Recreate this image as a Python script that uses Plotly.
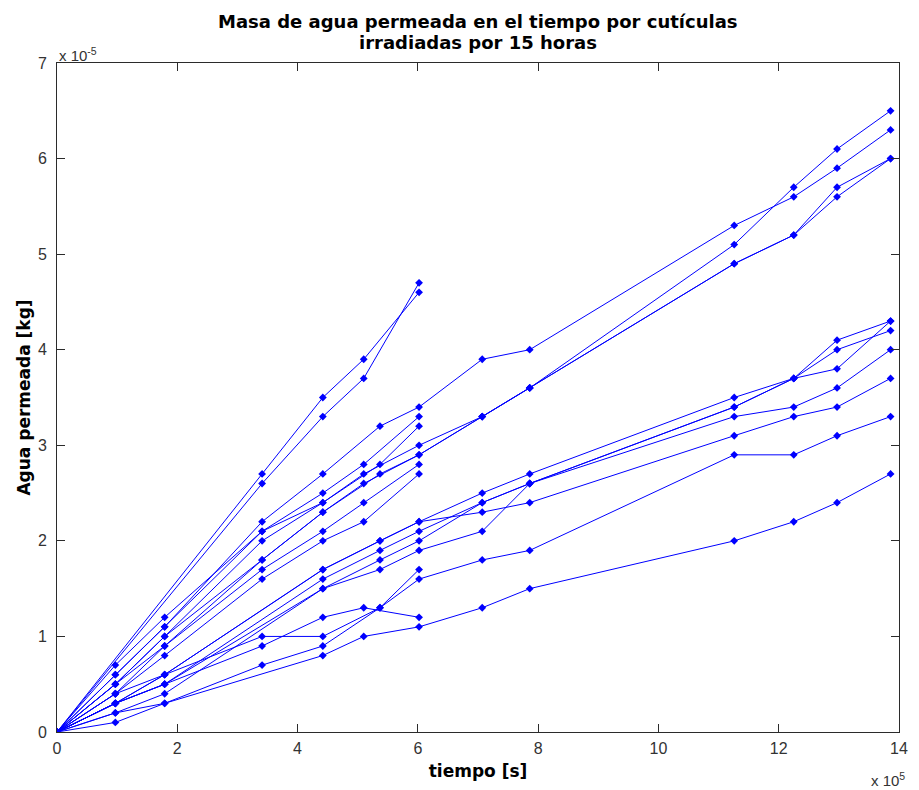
import plotly.graph_objects as go

# Time axis in units of 1e5 s, permeated water mass in units of 1e-5 kg

# Short runs (finish at ~6.0e5 s)
t_s1 = [0, 3.41, 4.42, 5.10, 6.02]
m_s1 = [0, 2.7, 3.5, 3.9, 4.6]
t_s2 = [0, 3.41, 4.42, 5.10, 6.02]
m_s2 = [0, 2.6, 3.3, 3.7, 4.7]
t_s3 = [0, 0.97, 1.79, 3.41, 4.42, 5.10, 6.02]
m_s3 = [0, 0.7, 1.2, 2.1, 2.5, 2.8, 3.3]
t_s4 = [0, 0.97, 1.79, 3.41, 4.42, 5.37, 6.02]
m_s4 = [0, 0.5, 1.0, 2.0, 2.4, 2.8, 3.2]
t_s5 = [0, 0.97, 1.79, 3.41, 4.42, 5.10, 6.02]
m_s5 = [0, 0.4, 0.9, 1.7, 2.1, 2.4, 2.8]
t_s6 = [0, 0.97, 1.79, 3.41, 4.42, 5.10, 6.02]
m_s6 = [0, 0.4, 0.8, 1.6, 2.0, 2.2, 2.7]
t_s7 = [0, 0.97, 1.79, 3.41, 4.42, 5.37, 6.02]
m_s7 = [0, 0.4, 0.6, 1.0, 1.0, 1.3, 1.7]
t_s8 = [0, 0.97, 1.79, 3.41, 4.42, 5.10, 6.02]
m_s8 = [0, 0.3, 0.5, 0.9, 1.2, 1.3, 1.2]

# Long runs (finish at ~13.9e5 s)
t_l1 = [0, 0.97, 1.79, 3.41, 4.42, 5.37, 6.02, 7.07, 7.86, 11.26, 12.25, 12.97, 13.86]
m_l1 = [0, 0.6, 1.1, 2.2, 2.7, 3.2, 3.4, 3.9, 4.0, 5.3, 5.6, 5.9, 6.3]
t_l2 = [0, 0.97, 1.79, 3.41, 4.42, 5.10, 6.02, 7.07, 7.86, 11.26, 12.25, 12.97, 13.86]
m_l2 = [0, 0.6, 1.1, 2.1, 2.4, 2.7, 3.0, 3.3, 3.6, 5.1, 5.7, 6.1, 6.5]
t_l3 = [0, 0.97, 1.79, 3.41, 4.42, 5.37, 6.02, 7.07, 7.86, 11.26, 12.25, 12.97, 13.86]
m_l3 = [0, 0.5, 0.9, 1.8, 2.3, 2.7, 2.9, 3.3, 3.6, 4.9, 5.2, 5.7, 6.0]
t_l4 = [0, 0.97, 1.79, 3.41, 4.42, 5.10, 6.02, 7.07, 7.86, 11.26, 12.25, 12.97, 13.86]
m_l4 = [0, 0.5, 1.0, 1.8, 2.3, 2.6, 2.9, 3.3, 3.6, 4.9, 5.2, 5.6, 6.0]
t_l5 = [0, 0.97, 1.79, 4.42, 5.37, 6.02, 7.07, 7.86, 11.26, 12.25, 12.97, 13.86]
m_l5 = [0, 0.3, 0.6, 1.7, 2.0, 2.2, 2.5, 2.7, 3.5, 3.7, 4.1, 4.3]
t_l6 = [0, 0.97, 1.79, 4.42, 5.37, 6.02, 7.07, 7.86, 11.26, 12.25, 12.97, 13.86]
m_l6 = [0, 0.3, 0.5, 1.6, 1.9, 2.1, 2.4, 2.6, 3.4, 3.7, 4.0, 4.2]
t_l7 = [0, 0.97, 1.79, 4.42, 5.37, 6.02, 7.07, 7.86, 11.26, 12.25, 12.97, 13.86]
m_l7 = [0, 0.2, 0.4, 1.5, 1.7, 1.9, 2.1, 2.6, 3.4, 3.7, 3.8, 4.3]
t_l8 = [0, 0.97, 1.79, 4.42, 5.37, 6.02, 7.07, 7.86, 11.26, 12.25, 12.97, 13.86]
m_l8 = [0, 0.3, 0.5, 1.5, 1.8, 2.0, 2.4, 2.6, 3.3, 3.4, 3.6, 4.0]
t_l9 = [0, 0.97, 1.79, 4.42, 5.37, 6.02, 7.07, 7.86, 11.26, 12.25, 12.97, 13.86]
m_l9 = [0, 0.3, 0.6, 1.7, 2.0, 2.2, 2.3, 2.4, 3.1, 3.3, 3.4, 3.7]
t_l10 = [0, 0.97, 1.79, 3.41, 4.42, 5.37, 6.02, 7.07, 7.86, 11.26, 12.25, 12.97, 13.86]
m_l10 = [0, 0.2, 0.3, 0.7, 0.9, 1.3, 1.6, 1.8, 1.9, 2.9, 2.9, 3.1, 3.3]
t_l11 = [0, 0.97, 1.79, 4.42, 5.10, 6.02, 7.07, 7.86, 11.26, 12.25, 12.97, 13.86]
m_l11 = [0, 0.1, 0.3, 0.8, 1.0, 1.1, 1.3, 1.5, 2.0, 2.2, 2.4, 2.7]

series = [
    (t_s1, m_s1), (t_s2, m_s2), (t_s3, m_s3), (t_s4, m_s4),
    (t_s5, m_s5), (t_s6, m_s6), (t_s7, m_s7), (t_s8, m_s8),
    (t_l1, m_l1), (t_l2, m_l2), (t_l3, m_l3), (t_l4, m_l4),
    (t_l5, m_l5), (t_l6, m_l6), (t_l7, m_l7), (t_l8, m_l8),
    (t_l9, m_l9), (t_l10, m_l10), (t_l11, m_l11),
]

x_ticks = [0, 2, 4, 6, 8, 10, 12, 14]
y_ticks = [0, 1, 2, 3, 4, 5, 6, 7]

TICK_FONT = "Liberation Sans, Arial, sans-serif"
BOLD_FONT = "DejaVu Sans, Verdana, sans-serif"
BLUE = "rgb(0,0,255)"
AXIS_GRAY = "#2b2b2b"

fig = go.Figure()
for t, m in series:
    fig.add_trace(go.Scatter(
        x=t, y=m, mode="lines+markers",
        line=dict(color=BLUE, width=1),
        marker=dict(color=BLUE, size=6, symbol="diamond"),
        showlegend=False, hoverinfo="skip",
    ))

axis_common = dict(
    showline=True, linecolor=AXIS_GRAY, linewidth=1, mirror="ticks",
    ticks="inside", ticklen=8, tickcolor=AXIS_GRAY, tickwidth=1,
    showgrid=False, zeroline=False,
    tickfont=dict(family=TICK_FONT, size=16, color="#333333"),
)

fig.update_layout(
    width=919, height=790,
    paper_bgcolor="white", plot_bgcolor="white",
    margin=dict(l=57, r=11, t=63, b=58),
    xaxis=dict(range=[0, 14], tickvals=x_ticks, ticktext=[str(v) for v in x_ticks],
               ticklabelstandoff=2,
               title=dict(text="<b>tiempo [s]</b>", standoff=8,
                          font=dict(family=BOLD_FONT, size=17, color="black")),
               **axis_common),
    yaxis=dict(range=[0, 7], tickvals=y_ticks, ticktext=[str(v) for v in y_ticks],
               ticklabelstandoff=6,
               title=dict(text="<b>Agua permeada [kg]</b>", standoff=2,
                          font=dict(family=BOLD_FONT, size=17, color="black")),
               **axis_common),
)

# Two-line title
title_lines = ["Masa de agua permeada en el tiempo por cutículas",
               "irradiadas por 15 horas"]
for i, line in enumerate(title_lines):
    fig.add_annotation(text="<b>" + line + "</b>", xref="paper", yref="paper",
                       x=0.5, y=1, xanchor="center", yanchor="middle",
                       yshift=42 - 21 * i, showarrow=False,
                       font=dict(family=BOLD_FONT, size=18, color="black"))

# Axis scale factors
fig.add_annotation(text="x 10<sup>-5</sup>", xref="paper", yref="paper",
                   x=0, y=1, xanchor="left", yanchor="middle", yshift=9,
                   showarrow=False, font=dict(family=TICK_FONT, size=15, color="#333333"))
fig.add_annotation(text="x 10<sup>5</sup>", xref="paper", yref="paper",
                   x=1, y=0, xanchor="right", yanchor="middle", yshift=-47, xshift=8,
                   showarrow=False, font=dict(family=TICK_FONT, size=15, color="#333333"))

fig.write_html("out.html")
